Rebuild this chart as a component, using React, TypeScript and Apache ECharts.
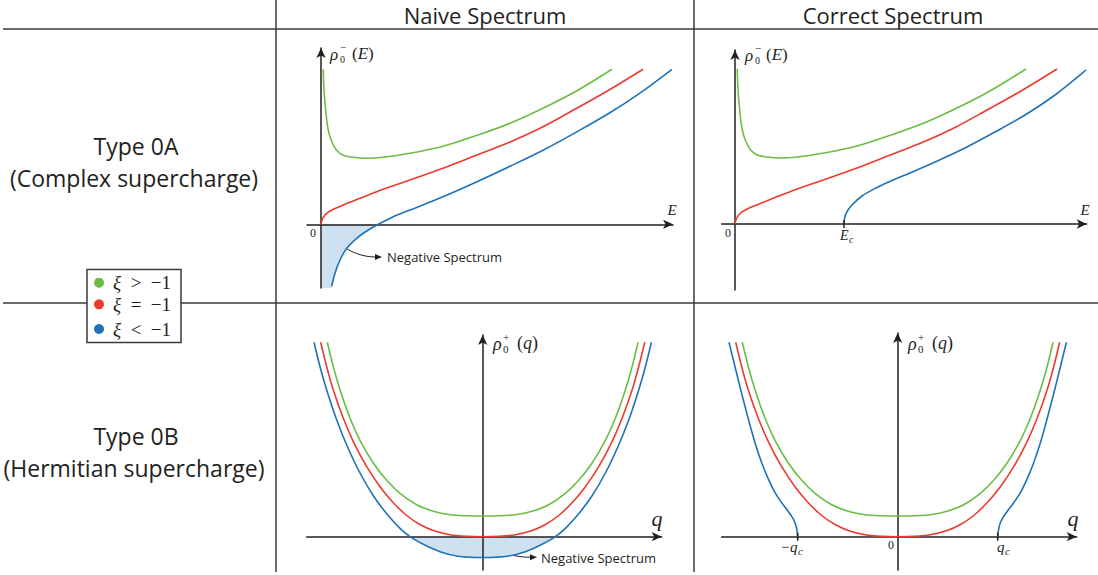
import React, { useEffect, useRef } from "react";
import * as echarts from "echarts";

// ---------- colours ----------
const GREEN = "#6abd45";
const RED = "#ec3b2e";
const BLUE = "#1f72b8";
const FILL = "#cfe1f1";
const INK = "#231f20";
const LINE = "#3a3a3a";

// ---------- text ----------
const columnHeaders = ["Naive Spectrum", "Correct Spectrum"];
const rowTitles = ["Type 0A", "Type 0B"];
const rowSubtitles = ["(Complex supercharge)", "(Hermitian supercharge)"];
const legendLabels = ["> \u22121", "= \u22121", "< \u22121"];
const negativeLabel = "Negative Spectrum";

// ---------- Type 0A : rho_0^-(E) ----------
const typeA_green = [
  [0.23, 15.5], [0.3, 13.4], [0.5, 11.1], [0.73, 9.4], [1.07, 8.3], [1.57, 7.4],
  [2.23, 6.9], [3.23, 6.7], [4.57, 6.6], [6.23, 6.7], [8.9, 7.1], [12.2, 7.8],
  [15.6, 8.9], [18.9, 10.1], [22.2, 11.6], [25.5, 13.3], [29.1, 15.5],
];
const typeA_red = [
  [0, 0], [0.17, 0.6], [0.57, 1.1], [1.23, 1.5], [2.23, 1.93], [3.9, 2.6],
  [5.57, 3.26], [8.9, 4.43], [12.2, 5.6], [15.6, 6.93], [18.6, 8.1], [21.9, 9.6],
  [25.2, 11.4], [28.6, 13.3], [32.2, 15.5],
];
const typeA_blueNaive = [
  [1.07, -6.2], [1.4, -4.9], [1.9, -3.57], [2.57, -2.4], [3.57, -1.4], [4.73, -0.57],
  [5.73, 0], [7.23, 0.76], [8.9, 1.43], [12.2, 2.76], [15.6, 4.26], [18.9, 5.8],
  [22.2, 7.4], [25.5, 9.2], [28.8, 11.1], [32.0, 13.2], [35.1, 15.5],
];
const typeA_blueCorrect = [
  [10.9, 0], [10.93, 0.4], [11.05, 0.9], [11.3, 1.4], [11.8, 2.0], [12.7, 2.8],
  [14.1, 3.6], [15.8, 4.4], [17.5, 5.1], [20.0, 6.2], [23.0, 7.6], [26.0, 9.2],
  [29.0, 10.9], [32.0, 12.9], [35.1, 15.4],
];
const E_c = 10.9;

// ---------- Type 0B : rho_0^+(q) ----------
const typeB_green = [
  [-15.54, 19.44], [-14.94, 17.0], [-14.27, 14.7], [-13.27, 11.87], [-12.27, 9.64],
  [-10.94, 7.37], [-9.6, 5.64], [-8.27, 4.34], [-6.6, 3.2], [-4.94, 2.54], [-3.27, 2.2],
  [-1.6, 2.09], [0, 2.07], [1.6, 2.09], [3.27, 2.2], [4.94, 2.54], [6.6, 3.2], [8.27, 4.34],
  [9.6, 5.64], [10.94, 7.37], [12.27, 9.64], [13.27, 11.87], [14.27, 14.7], [14.94, 17.0],
  [15.54, 19.44],
];
const typeB_red = [
  [-16.2, 19.44], [-15.6, 17.0], [-14.94, 14.67], [-13.94, 11.84], [-12.94, 9.51],
  [-11.6, 7.0], [-10.27, 5.0], [-8.94, 3.4], [-7.6, 2.12], [-6.27, 1.22], [-4.94, 0.62],
  [-3.27, 0.2], [-1.6, 0.04], [0, 0], [1.6, 0.04], [3.27, 0.2], [4.94, 0.62], [6.27, 1.22],
  [7.6, 2.12], [8.94, 3.4], [10.27, 5.0], [11.6, 7.0], [12.94, 9.51], [13.94, 11.84],
  [14.94, 14.67], [15.6, 17.0], [16.2, 19.44],
];
const typeB_blueNaive = [
  [-16.87, 19.44], [-16.27, 17.0], [-15.6, 14.67], [-14.6, 11.67], [-13.6, 9.17],
  [-12.27, 6.37], [-10.94, 4.1], [-9.6, 2.3], [-8.27, 0.84], [-7.27, 0], [-5.94, -0.76],
  [-4.27, -1.5], [-2.6, -1.93], [0, -2.08], [2.6, -1.93], [4.27, -1.5], [5.94, -0.76],
  [7.27, 0], [8.27, 0.84], [9.6, 2.3], [10.94, 4.1], [12.27, 6.37], [13.6, 9.17],
  [14.6, 11.67], [15.6, 14.67], [16.27, 17.0], [16.87, 19.44],
];
const typeB_blueCorrectLeft = [
  [-16.87, 19.44], [-16.27, 17.0], [-15.6, 14.3], [-14.93, 11.75], [-14.27, 9.4],
  [-13.6, 7.4], [-12.93, 5.75], [-12.27, 4.4], [-11.6, 3.4], [-10.93, 2.5], [-10.43, 1.75],
  [-10.17, 1.1], [-10.07, 0.6], [-10.0, 0],
];
const typeB_blueCorrectRight = [
  [10.0, 0], [10.07, 0.6], [10.17, 1.1], [10.43, 1.75], [10.93, 2.5], [11.6, 3.4],
  [12.27, 4.4], [12.93, 5.75], [13.6, 7.4], [14.27, 9.4], [14.93, 11.75], [15.6, 14.3],
  [16.27, 17.0], [16.87, 19.44],
];
const q_c = 10.0;

// ---------- panel frames (grid + axis ranges) ----------
const panels = [
  { left: 307, top: 48, width: 366, height: 240, xMin: -1.4, xMax: 35.2, yMin: -6.37, yMax: 17.63 },
  { left: 721.7, top: 50, width: 365, height: 240, xMin: -1.33, xMax: 35.17, yMin: -6.6, yMax: 17.4 },
  { left: 306.7, top: 335, width: 355, height: 235, xMin: -17.6, xMax: 17.9, yMin: -3.33, yMax: 20.17 },
  { left: 721.7, top: 333, width: 355, height: 237, xMin: -17.6, xMax: 17.9, yMin: -3.33, yMax: 20.37 },
];

const SERIF = "'Liberation Serif', 'DejaVu Serif', serif";
const SANS = "'Open Sans', 'Noto Sans', sans-serif";

// centripetal Catmull-Rom through pixel points, as SVG path data
function smoothPath(pts: number[][]): string {
  const n = pts.length;
  if (n < 2) return "";
  let d = `M${pts[0][0]},${pts[0][1]}`;
  const dist = (a: number[], b: number[]) => Math.hypot(b[0] - a[0], b[1] - a[1]);
  for (let i = 0; i < n - 1; i++) {
    const p0 = pts[i === 0 ? 0 : i - 1];
    const p1 = pts[i];
    const p2 = pts[i + 1];
    const p3 = pts[i + 2 < n ? i + 2 : n - 1];
    const l01 = Math.sqrt(dist(p0, p1));
    const l12 = Math.sqrt(dist(p1, p2));
    const l23 = Math.sqrt(dist(p2, p3));
    let c1x = p1[0], c1y = p1[1], c2x = p2[0], c2y = p2[1];
    if (l01 > 1e-6) {
      const a = 2 * l01 * l01 + 3 * l01 * l12 + l12 * l12;
      const m = 3 * l01 * (l01 + l12);
      c1x = (p1[0] * a - p0[0] * l12 * l12 + p2[0] * l01 * l01) / m;
      c1y = (p1[1] * a - p0[1] * l12 * l12 + p2[1] * l01 * l01) / m;
    }
    if (l23 > 1e-6) {
      const b = 2 * l23 * l23 + 3 * l23 * l12 + l12 * l12;
      const m = 3 * l23 * (l23 + l12);
      c2x = (p2[0] * b + p1[0] * l23 * l23 - p3[0] * l12 * l12) / m;
      c2y = (p2[1] * b + p1[1] * l23 * l23 - p3[1] * l12 * l12) / m;
    }
    d += ` C${c1x},${c1y} ${c2x},${c2y} ${p2[0]},${p2[1]}`;
  }
  return d;
}

function curve(name: string, data: number[][], color: string, idx: number): any {
  return {
    name,
    type: "custom",
    xAxisIndex: idx,
    yAxisIndex: idx,
    data,
    encode: { x: 0, y: 1 },
    silent: true,
    z: 3,
    renderItem: (params: any, api: any) => {
      if (params.dataIndex !== 0) return;
      const px = data.map((p) => api.coord(p));
      return {
        type: "path",
        shape: { pathData: smoothPath(px) },
        style: { stroke: color, lineWidth: 1.6, fill: "none" },
      };
    },
  };
}

// filled region between a curve and the horizontal axis (rho = 0)
function shade(data: number[][], idx: number, corner: number[] | null): any {
  return {
    type: "custom",
    xAxisIndex: idx,
    yAxisIndex: idx,
    data,
    encode: { x: 0, y: 1 },
    silent: true,
    z: 1,
    renderItem: (params: any, api: any) => {
      if (params.dataIndex !== 0) return;
      const px = data.map((p) => api.coord(p));
      let d = smoothPath(px);
      const last = data[data.length - 1];
      const first = data[0];
      if (corner) {
        const c0 = api.coord([corner[0], 0]);
        const c1 = api.coord([corner[0], corner[1]]);
        const c2 = api.coord([first[0], corner[1]]);
        d += ` L${c0[0]},${c0[1]} L${c1[0]},${c1[1]} L${c2[0]},${c2[1]} Z`;
      } else {
        const e = api.coord([last[0], 0]);
        const s = api.coord([first[0], 0]);
        d += ` L${e[0]},${e[1]} L${s[0]},${s[1]} Z`;
      }
      return { type: "path", shape: { pathData: d }, style: { fill: FILL, stroke: "none" } };
    },
  };
}

function tick(x: number, idx: number): any {
  return {
    type: "line",
    xAxisIndex: idx,
    yAxisIndex: idx,
    data: [[x, -0.4], [x, 0.4]],
    showSymbol: false,
    silent: true,
    lineStyle: { color: INK, width: 1.5 },
    z: 4,
  };
}

function txt(x: number, y: number, text: string, font: string, align = "center", extra: any = {}): any {
  return {
    type: "text",
    x,
    y,
    silent: true,
    style: {
      text,
      font,
      fill: INK,
      align,
      textAlign: align,
      verticalAlign: "middle",
      textVerticalAlign: "middle",
      ...extra,
    },
  };
}

function rhoLabel(x: number, y: number, sign: string, arg: string, size: number, off: number): any[] {
  return [
    txt(x, y + 1, "\u03c1", `italic ${size}px ${SERIF}`, "left", { lineHeight: size }),
    txt(x + 10, y - 6.5, sign, `${Math.round(size * 0.62)}px ${SERIF}`, "left", { lineHeight: 9 }),
    txt(x + 10, y + 6, "0", `${Math.round(size * 0.6)}px ${SERIF}`, "left", { lineHeight: 9 }),
    txt(x + off, y, `({i|${arg}})`, `${size}px ${SERIF}`, "left", {
      rich: { i: { fontStyle: "italic", fontFamily: SERIF, fontSize: size, fill: INK } },
    }),
  ];
}

function curvedArrow(x1: number, y1: number, c1x: number, c1y: number, c2x: number, c2y: number, x2: number, y2: number): any[] {
  return [
    {
      type: "bezierCurve",
      silent: true,
      shape: { x1, y1, cpx1: c1x, cpy1: c1y, cpx2: c2x, cpy2: c2y, x2, y2 },
      style: { stroke: INK, lineWidth: 1, fill: "none" },
    },
    {
      type: "polygon",
      silent: true,
      shape: { points: [[x2 - 1, y2 - 3], [x2 + 6, y2], [x2 - 1, y2 + 3]] },
      style: { fill: INK },
    },
  ];
}

function hline(x1: number, x2: number, y: number): any {
  return { type: "line", silent: true, shape: { x1, y1: y, x2, y2: y }, style: { stroke: LINE, lineWidth: 1.5 } };
}
function vline(x: number, y1: number, y2: number): any {
  return { type: "line", silent: true, shape: { x1: x, y1, x2: x, y2 }, style: { stroke: LINE, lineWidth: 1.5 } };
}

function buildOption(): any {
  const grid = panels.map((p) => ({
    left: p.left,
    top: p.top,
    width: p.width,
    height: p.height,
    containLabel: false,
    outerBoundsMode: "none",
  }));
  const axisCommon = {
    type: "value",
    axisLine: {
      show: true,
      onZero: true,
      symbol: ["none", "arrow"],
      symbolSize: [7, 10],
      lineStyle: { color: INK, width: 1.5 },
    },
    axisTick: { show: false },
    axisLabel: { show: false },
    splitLine: { show: false },
    z: 2,
  };
  const xAxis = panels.map((p, i) => ({ ...axisCommon, gridIndex: i, min: p.xMin, max: p.xMax }));
  const yAxis = panels.map((p, i) => ({ ...axisCommon, gridIndex: i, min: p.yMin, max: p.yMax }));

  const shadeA = typeA_blueNaive.filter((d) => d[1] <= 0);
  const shadeB = typeB_blueNaive.filter((d) => d[1] <= 0);

  const series = [
    shade(shadeA, 0, [0, panels[0].yMin]),
    curve("xi > -1", typeA_green, GREEN, 0),
    curve("xi = -1", typeA_red, RED, 0),
    curve("xi < -1", typeA_blueNaive, BLUE, 0),

    curve("xi > -1", typeA_green, GREEN, 1),
    curve("xi = -1", typeA_red, RED, 1),
    curve("xi < -1", typeA_blueCorrect, BLUE, 1),
    tick(E_c, 1),

    shade(shadeB, 2, null),
    curve("xi > -1", typeB_green, GREEN, 2),
    curve("xi = -1", typeB_red, RED, 2),
    curve("xi < -1", typeB_blueNaive, BLUE, 2),

    curve("xi > -1", typeB_green, GREEN, 3),
    curve("xi = -1", typeB_red, RED, 3),
    curve("xi < -1", typeB_blueCorrectLeft, BLUE, 3),
    curve("xi < -1", typeB_blueCorrectRight, BLUE, 3),
    tick(-q_c, 3),
    tick(q_c, 3),
  ];

  const legendColors = [GREEN, RED, BLUE];
  const legendY = [282.7, 304.3, 329];

  const graphic: any[] = [
    // table rules
    hline(3, 1098, 29),
    hline(3, 87, 303),
    hline(181, 1098, 303),
    vline(276, 0, 572),
    vline(694, 0, 572),
    // headers
    txt(485, 15, columnHeaders[0], `22px ${SANS}`, "center", { lineHeight: 24 }),
    txt(893, 15, columnHeaders[1], `22px ${SANS}`, "center", { lineHeight: 24 }),
    txt(136, 146, rowTitles[0], `23px ${SANS}`),
    txt(134, 178, rowSubtitles[0], `23px ${SANS}`),
    txt(136, 436, rowTitles[1], `23px ${SANS}`),
    txt(134, 468, rowSubtitles[1], `23px ${SANS}`),
    // legend box
    {
      type: "rect",
      silent: true,
      shape: { x: 87, y: 269.5, width: 94, height: 73 },
      style: { fill: "#fff", stroke: LINE, lineWidth: 1.5 },
    },
    ...legendColors.map((c, i) => ({
      type: "circle",
      silent: true,
      shape: { cx: 99, cy: legendY[i], r: 5 },
      style: { fill: c },
    })),
    ...legendLabels.map((l, i) =>
      txt(113, legendY[i], `{i|\u03be}\u2002${l.replace(" ", "\u2002")}`, `19px ${SERIF}`, "left", {
        rich: { i: { fontStyle: "italic", fontFamily: SERIF, fontSize: 19, fill: INK } },
      })
    ),
    // panel 1 labels
    ...rhoLabel(330, 53, "\u2212", "E", 17, 22),
    txt(313, 233, "0", `12px ${SERIF}`),
    txt(672, 210, "E", `italic 15px ${SERIF}`),
    ...curvedArrow(340, 244, 350, 252, 362, 257, 376, 257),
    txt(387, 257, negativeLabel, `13px ${SANS}`, "left"),
    // panel 2 labels
    ...rhoLabel(745, 54, "\u2212", "E", 17, 21),
    txt(728, 233, "0", `12px ${SERIF}`),
    txt(1085, 210, "E", `italic 15px ${SERIF}`),
    txt(840, 235, "E", `italic 14px ${SERIF}`, "left"),
    txt(849, 239, "c", `italic 10px ${SERIF}`, "left"),
    // panel 3 labels
    ...rhoLabel(493, 343, "+", "q", 18, 24),
    txt(477, 545, "0", `12px ${SERIF}`),
    txt(657, 518, "q", `italic 22px ${SERIF}`),
    ...curvedArrow(495, 545, 502, 552, 512, 557.3, 531, 557.3),
    txt(541, 557.5, negativeLabel, `13px ${SANS}`, "left"),
    // panel 4 labels
    ...rhoLabel(908, 343, "+", "q", 18, 24),
    txt(891, 545, "0", `12px ${SERIF}`),
    txt(1073, 518, "q", `italic 22px ${SERIF}`),
    txt(781, 547, "\u2212", `15px ${SERIF}`, "left"),
    txt(790, 547, "q", `italic 15px ${SERIF}`, "left"),
    txt(798, 551, "c", `italic 11px ${SERIF}`, "left"),
    txt(997, 547, "q", `italic 15px ${SERIF}`, "left"),
    txt(1005, 551, "c", `italic 11px ${SERIF}`, "left"),
  ];

  return {
    animation: false,
    backgroundColor: "#ffffff",
    grid,
    xAxis,
    yAxis,
    series,
    graphic,
  };
}

export default function App() {
  const ref = useRef<HTMLDivElement>(null);
  useEffect(() => {
    const chart = echarts.init(ref.current as HTMLDivElement, null, { renderer: "svg" });
    chart.setOption(buildOption());
    return () => chart.dispose();
  }, []);
  return (
    <div
      ref={ref}
      style={{ position: "absolute", left: 0, top: 0, width: 1098, height: 575, background: "#fff" }}
    />
  );
}
